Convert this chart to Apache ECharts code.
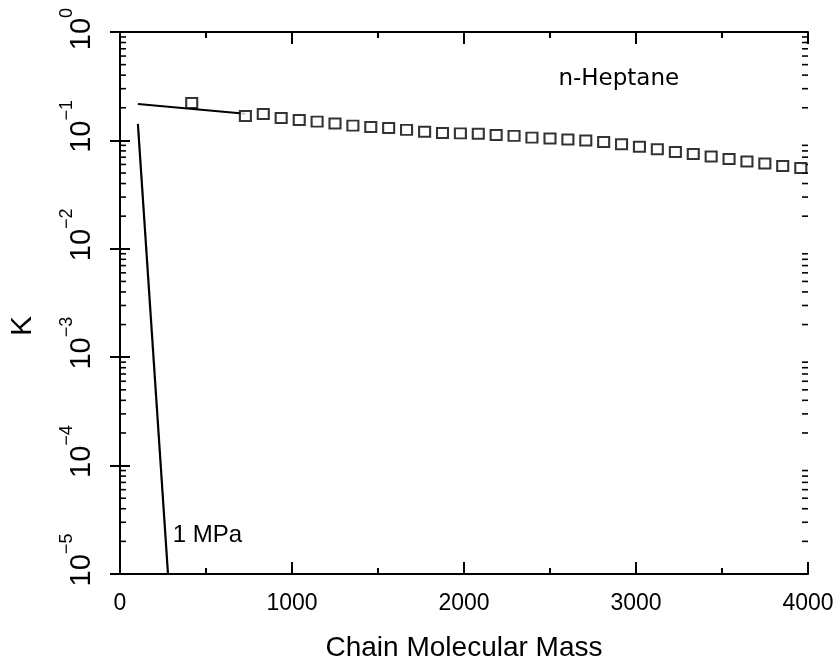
<!DOCTYPE html>
<html>
<head>
<meta charset="utf-8">
<script src="https://cdn.jsdelivr.net/npm/echarts@6/dist/echarts.min.js"></script>
<style>html,body{margin:0;padding:0;background:#fff;}#c{width:839px;height:662px;}</style>
</head>
<body>
<div id="c"></div>
<script>
// ---- data ----
const xTicks = [0, 1000, 2000, 3000, 4000];
const yDecades = [1e-5, 1e-4, 1e-3, 1e-2, 1e-1, 1];
const heptaneMass = [417, 729, 833, 937, 1042, 1146, 1250, 1354, 1458, 1562, 1666, 1771, 1875, 1979, 2083, 2187, 2291, 2395, 2500, 2604, 2708, 2812, 2916, 3020, 3124, 3229, 3333, 3437, 3541, 3645, 3749, 3853, 3958];
const heptaneK = [0.221, 0.168, 0.175, 0.161, 0.154, 0.149, 0.143, 0.137, 0.133, 0.130, 0.125, 0.120, 0.117, 0.116, 0.115, 0.112, 0.110, 0.106, 0.104, 0.102, 0.0998, 0.0967, 0.0920, 0.0875, 0.0830, 0.0782, 0.0750, 0.0710, 0.0673, 0.0638, 0.0612, 0.0580, 0.0556];
const heptaneLineMass = [104, 729];
const heptaneLineK = [0.217, 0.176];
const mpaMass = [104, 279];
const mpaK = [0.142, 0.00001];
const labels = { heptane: 'n-Heptane', mpa: '1 MPa', xName: 'Chain Molecular Mass', yName: 'K' };

// minor tick values for the log axis (2..9 × 10^d)
const minorVals = [];
for (let i = 0; i < yDecades.length - 1; i++) {
  for (let m = 2; m <= 9; m++) minorVals.push([0, m * yDecades[i]]);
}

const FONT = 'Liberation Sans';
const chart = echarts.init(document.getElementById('c'));

const baseX = {
  type: 'value', min: xTicks[0], max: xTicks[xTicks.length - 1], interval: 1000,
  axisLine: { show: true, lineStyle: { color: '#000', width: 2 } },
  axisTick: { show: true, inside: true, length: 12, lineStyle: { color: '#000', width: 2 } },
  minorTick: { show: true, splitNumber: 2, length: 6, lineStyle: { color: '#000', width: 2 } },
  splitLine: { show: false }
};
const baseY = {
  type: 'log', logBase: 10, min: yDecades[0], max: yDecades[yDecades.length - 1],
  axisLine: { show: true, lineStyle: { color: '#000', width: 2 } },
  axisTick: { show: true, inside: true, length: 10, lineStyle: { color: '#000', width: 2 } },
  splitLine: { show: false }
};

chart.setOption({
  animation: false,
  backgroundColor: '#fff',
  grid: { left: 120, right: 31, top: 32, bottom: 88, containLabel: false, outerBoundsMode: 'none' },
  xAxis: [
    Object.assign({}, baseX, {
      position: 'bottom',
      axisLabel: { show: true, color: '#000', fontFamily: FONT, fontSize: 23, margin: 18,
        formatter: v => String(v) },
      name: labels.xName, nameLocation: 'middle', nameGap: 60,
      nameTextStyle: { color: '#000', fontFamily: FONT, fontSize: 28 }
    }),
    Object.assign({}, baseX, { position: 'top', axisLabel: { show: false } })
  ],
  yAxis: [
    Object.assign({}, baseY, {
      position: 'left',
      axisLabel: {
        show: true, rotate: 90, margin: 24, color: '#000', hideOverlap: false,
        padding: [0, 0, 0, 28],
        formatter: function (v) {
          const e = Math.round(Math.log10(v));
          const st = e === 0 ? 'e0' : 'e';
          return '{b|10}{' + st + '|' + (e < 0 ? '\u2212' + (-e) : String(e)) + '}';
        },
        rich: {
          b: { fontFamily: FONT, fontSize: 29, lineHeight: 38, verticalAlign: 'bottom', color: '#000' },
          e: { fontFamily: FONT, fontSize: 18, lineHeight: 18, verticalAlign: 'top', color: '#000' },
          e0: { fontFamily: FONT, fontSize: 18, lineHeight: 18, verticalAlign: 'top', color: '#000', padding: [0, 22, 0, 0] }
        }
      },
      name: labels.yName, nameLocation: 'middle', nameGap: 82, nameRotate: 90,
      nameTextStyle: { color: '#000', fontFamily: FONT, fontSize: 30, padding: [0, 46, 0, 0] }
    }),
    Object.assign({}, baseY, { position: 'right', axisLabel: { show: false } })
  ],
  series: [
    {
      type: 'custom', name: 'minorTicks', xAxisIndex: 0, yAxisIndex: 0, clip: false, silent: true,
      data: minorVals,
      renderItem: function (params, api) {
        const v = api.value(1);
        const pl = api.coord([xTicks[0], v]);
        const pr = api.coord([xTicks[xTicks.length - 1], v]);
        const st = { stroke: '#000', lineWidth: 1.6 };
        return {
          type: 'group', children: [
            { type: 'line', shape: { x1: pl[0], y1: pl[1], x2: pl[0] + 6, y2: pl[1] }, style: st },
            { type: 'line', shape: { x1: pr[0] - 6, y1: pr[1], x2: pr[0], y2: pr[1] }, style: st }
          ]
        };
      }
    },
    {
      type: 'line', name: 'heptaneLine', symbol: 'none',
      data: heptaneLineMass.map((m, i) => [m, heptaneLineK[i]]),
      lineStyle: { color: '#000', width: 2 }, z: 3
    },
    {
      type: 'scatter', name: 'heptane', symbol: 'rect', symbolSize: [11, 10],
      data: heptaneMass.map((m, i) => [m, heptaneK[i]]),
      itemStyle: { color: '#fff', borderColor: '#000', borderWidth: 2 }, z: 4,
      markPoint: {
        symbol: 'rect', symbolSize: 0, silent: true,
        data: [{ coord: [2900, 0.37], label: { show: true, formatter: labels.heptane, color: '#000',
          fontFamily: 'DejaVu Sans', fontSize: 23, position: 'inside' } }]
      }
    },
    {
      type: 'line', name: 'mpa', symbol: 'none',
      data: mpaMass.map((m, i) => [m, mpaK[i]]),
      lineStyle: { color: '#000', width: 2.2 }, z: 3,
      markPoint: {
        symbol: 'rect', symbolSize: 0, silent: true,
        data: [{ coord: [508, 0.0000225], label: { show: true, formatter: labels.mpa, color: '#000',
          fontFamily: FONT, fontSize: 24, position: 'inside' } }]
      }
    }
  ]
});
</script>
</body>
</html>
